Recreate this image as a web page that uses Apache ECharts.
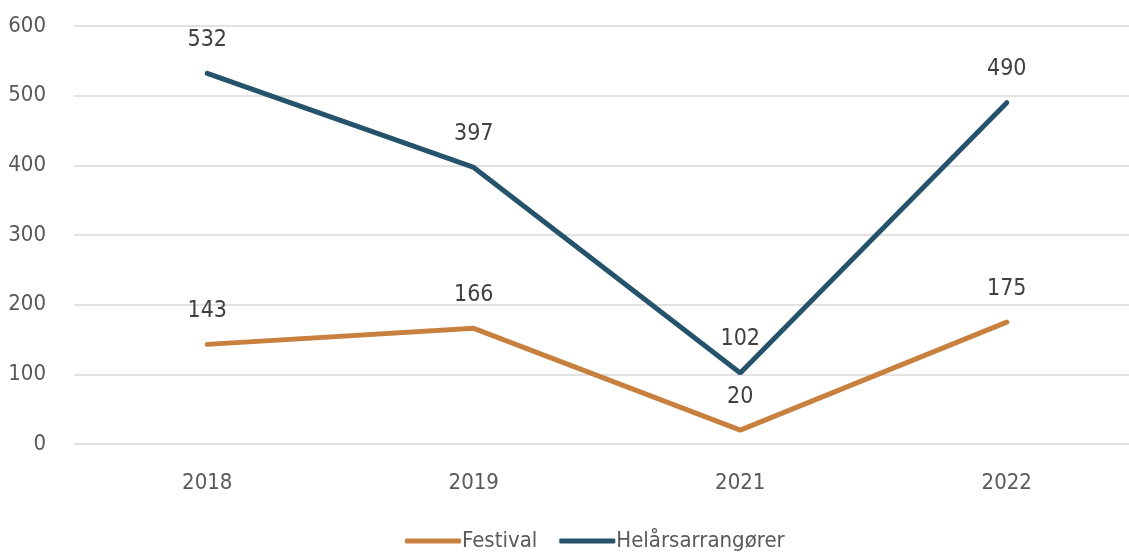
<!DOCTYPE html>
<html>
<head>
<meta charset="utf-8">
<script src="https://cdn.jsdelivr.net/npm/echarts@6/dist/echarts.min.js"></script>
<style>
  html, body { margin: 0; padding: 0; background: #fff; }
  #chart { width: 1129px; height: 553px; }
</style>
</head>
<body>
<div id="chart"></div>
<script>
// data
const years = ['2018', '2019', '2021', '2022']
const festival = [143, 166, 20, 175]
const helars = [532, 397, 102, 490]
const yTicks = [0, 100, 200, 300, 400, 500, 600]

const FONT = '"Liberation Sans Narrow", "DejaVu Sans Condensed", "Roboto", sans-serif'
const ORANGE = '#C8803F'
const BLUE = '#26536C'

const chart = echarts.init(document.getElementById('chart'))

function lineSeries(name, data, color) {
    return {
        name: name,
        type: 'line',
        data: data,
        symbol: 'circle',
        symbolSize: 0,
        lineStyle: { color: color, width: 5, cap: 'round' },
        itemStyle: { color: color },
        label: {
            show: true,
            position: 'top',
            distance: 22,
            color: '#404040',
            fontFamily: FONT,
            fontSize: 23
        }
    }
}

chart.setOption({
    animation: false,
    grid: { left: 74, right: -11, top: 26, height: 418, outerBoundsMode: 'none', containLabel: false },
    legend: {
        bottom: -4,
        left: 400,
        itemWidth: 56,
        itemHeight: 5,
        itemGap: 22,
        icon: 'roundRect',
        textStyle: { color: '#595959', fontFamily: FONT, fontSize: 22, padding: [0, 0, 0, -4] },
        data: ['Festival', 'Helårsarrangører']
    },
    xAxis: {
        type: 'category',
        data: years,
        axisLine: { show: false },
        axisTick: { show: false },
        axisLabel: { color: '#595959', fontFamily: FONT, fontSize: 22, margin: 28 }
    },
    yAxis: {
        type: 'value',
        min: yTicks[0],
        max: yTicks[yTicks.length - 1],
        interval: 100,
        axisLabel: { color: '#595959', fontFamily: FONT, fontSize: 22, margin: 28 },
        splitLine: { lineStyle: { color: '#D9D9D9', width: 1.5 } }
    },
    series: [
        lineSeries('Festival', festival, ORANGE),
        lineSeries('Helårsarrangører', helars, BLUE)
    ]
})
</script>
</body>
</html>
